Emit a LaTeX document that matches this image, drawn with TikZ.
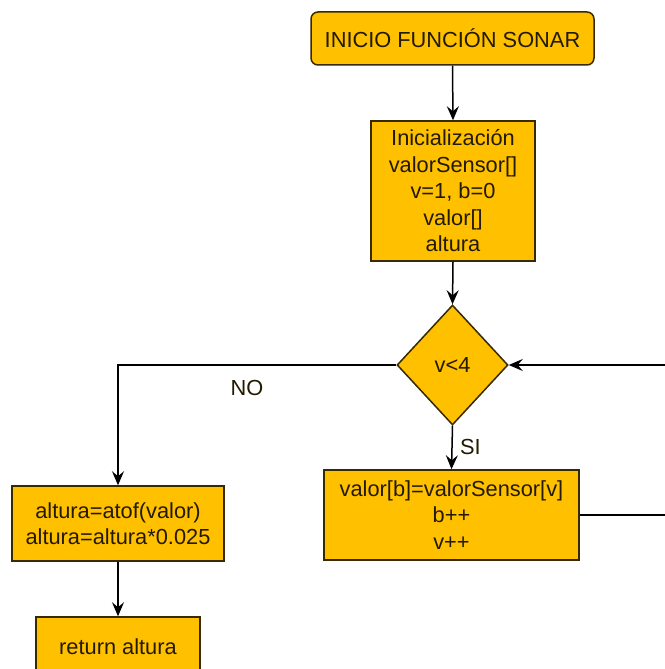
\documentclass[tikz,border=0pt]{standalone}
\usepackage{fontspec}
\setmainfont{Liberation Sans}
\usetikzlibrary{shapes.geometric,arrows.meta}
\definecolor{boxfill}{RGB}{255,192,0}
\definecolor{boxline}{RGB}{55,42,0}
\definecolor{txt}{RGB}{35,26,0}
\begin{document}
\begin{tikzpicture}[x=1pt,y=-1pt,
  font=\fontsize{21.8}{26.5}\selectfont,
  base/.style={draw=boxline,fill=boxfill,line width=1.5pt,text=txt,inner sep=0pt,align=center},
  procbox/.style={base,rectangle},
  startbox/.style={base,rectangle,rounded corners=7pt},
  decbox/.style={base,diamond},
  flow/.style={line width=1.5pt,draw=black,-{Stealth[length=14pt,width=12pt,inset=5pt]}},
  lbl/.style={text=txt,inner sep=0pt}]
\useasboundingbox (0,0) rectangle (664,669);
\fill[white] (0,0) rectangle (664,669);

\node[startbox,minimum width=283pt,minimum height=53pt] (start) at (452.5,38.5) {INICIO FUNCIÓN SONAR};
\node[procbox,minimum width=164pt,minimum height=140pt] (init) at (453,191)
  {Inicialización\\valorSensor[]\\v=1, b=0\\valor[]\\altura};
\node[decbox,minimum width=111pt,minimum height=120pt] (dec) at (452.5,365) {v<4};
\node[procbox,minimum width=255pt,minimum height=90pt] (loop) at (451.5,515)
  {valor[b]=valorSensor[v]\\b++\\v++};
\node[procbox,minimum width=212pt,minimum height=75pt] (calc) at (118,523.5)
  {altura=atof(valor)\\altura=altura*0.025};
\node[procbox,minimum width=164pt,minimum height=60pt] (ret) at (118,647) {return altura};

\coordinate (back) at (690,365);

\draw[flow] (start.south) -- (init.north);
\draw[flow] (init.south) -- (dec.north);
\draw[flow] (dec.south) -- (loop.north);
\draw[flow] (dec.west) -| (calc.north);
\draw[flow] (loop.east) -| (back) -- (dec.east);
\draw[flow] (calc.south) -- (ret.north);

\node[lbl,anchor=west] (si) at (460,447) {SI};
\node[lbl] (no) at (247,388) {NO};
\end{tikzpicture}
\end{document}
